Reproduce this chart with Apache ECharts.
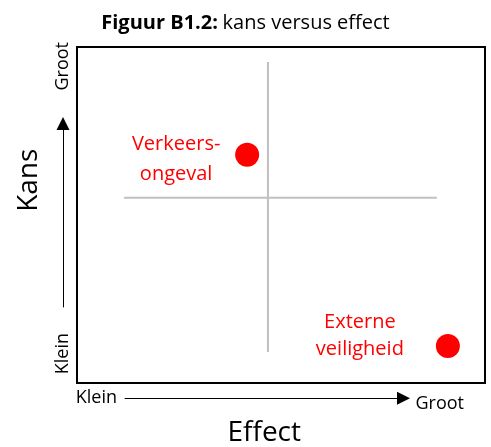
<!DOCTYPE html>
<html>
<head>
<meta charset="utf-8">
<script src="https://cdn.jsdelivr.net/npm/echarts@6/dist/echarts.min.js"></script>
<style>
html,body{margin:0;padding:0;background:#fff}
#main{width:491px;height:447px}
</style>
</head>
<body>
<div id="main"></div>
<script>
// gegevens
var risks = ['Verkeers-\nongeval', 'Externe\nveiligheid'];
var effect = [4.17, 9.09];
var kans = [6.79, 1.10];
var vLine = [[4.68, 0.92], [4.68, 9.55]];
var hLine = [[1.15, 5.51], [8.82, 5.51]];
var scaleWords = ['Klein', 'Groot'];

// stijl per label (geen data)
var labelStyle = [
  {offset: [-71, 4.5], lineHeight: 30},
  {offset: [-88, -10.5], lineHeight: 27}
];

var font = 'Open Sans';
var arrowPath = 'path://M5,0 L10,10 L0,10 Z';

var chart = echarts.init(document.getElementById('main'));

var points = risks.map(function (n, i) {
  return {
    name: n,
    value: [effect[i], kans[i]],
    label: {offset: labelStyle[i].offset, lineHeight: labelStyle[i].lineHeight}
  };
});

var hidden = {show: false};

var option = {
  animation: false,
  textStyle: {fontFamily: font},
  title: {
    text: '{b|Figuur B1.2:} {n|kans versus effect}',
    left: 'center',
    top: 8,
    textStyle: {
      fontWeight: 'normal',
      rich: {
        b: {fontFamily: font, fontWeight: 'bold', fontSize: 20, color: '#000'},
        n: {fontFamily: font, fontWeight: 'normal', fontSize: 20, color: '#000'}
      }
    }
  },
  grid: [
    {left: 77, top: 47, width: 408, height: 336, show: true, borderColor: '#000', borderWidth: 2, backgroundColor: 'transparent'},
    {left: 125, top: 398, width: 278.5, height: 1},
    {left: 63, top: 123.5, width: 10, height: 183.5}
  ],
  xAxis: [
    {gridIndex: 0, type: 'value', min: 0, max: 10, show: false},
    {gridIndex: 1, type: 'value', min: 0, max: 1, position: 'bottom',
      axisLine: {show: true, onZero: false, symbol: ['none', arrowPath], symbolSize: [15, 13], lineStyle: {color: '#000', width: 1}},
      axisTick: hidden, axisLabel: hidden, splitLine: hidden,
      name: scaleWords[1], nameLocation: 'end', nameGap: 12,
      nameTextStyle: {fontSize: 18, color: '#000', verticalAlign: 'top', lineHeight: 12}},
    {gridIndex: 1, type: 'value', min: 0, max: 1, position: 'bottom',
      axisLine: hidden, axisTick: hidden, axisLabel: hidden, splitLine: hidden,
      name: scaleWords[0], nameLocation: 'start', nameGap: 8,
      nameTextStyle: {fontSize: 18, color: '#000'}},
    {gridIndex: 1, type: 'value', min: 0, max: 1, position: 'bottom',
      axisLine: hidden, axisTick: hidden, axisLabel: hidden, splitLine: hidden,
      name: 'Effect', nameLocation: 'middle', nameGap: 21,
      nameTextStyle: {fontSize: 28, color: '#000'}},
    {gridIndex: 2, type: 'value', min: 0, max: 1, show: false}
  ],
  yAxis: [
    {gridIndex: 0, type: 'value', min: 0, max: 10, show: false},
    {gridIndex: 1, type: 'value', min: 0, max: 1, show: false},
    {gridIndex: 2, type: 'value', min: 0, max: 1, position: 'left',
      axisLine: {show: true, onZero: false, symbol: ['none', arrowPath], symbolSize: [16, 13], lineStyle: {color: '#000', width: 1}},
      axisTick: hidden, axisLabel: hidden, splitLine: hidden,
      name: scaleWords[1], nameLocation: 'end', nameGap: 33, nameRotate: 90,
      nameTextStyle: {fontSize: 18, color: '#000'}},
    {gridIndex: 2, type: 'value', min: 0, max: 1, position: 'left',
      axisLine: hidden, axisTick: hidden, axisLabel: hidden, splitLine: hidden,
      name: scaleWords[0], nameLocation: 'start', nameGap: 26, nameRotate: 90,
      nameTextStyle: {fontSize: 18, color: '#000'}},
    {gridIndex: 2, type: 'value', min: 0, max: 1, position: 'left',
      axisLine: hidden, axisTick: hidden, axisLabel: hidden, splitLine: hidden,
      name: 'Kans', nameLocation: 'middle', nameGap: 20, nameRotate: 90,
      nameTextStyle: {fontSize: 28, color: '#000', padding: [0, 0, 0, 70]}}
  ],
  series: [
    {type: 'line', xAxisIndex: 0, yAxisIndex: 0, data: vLine, showSymbol: false, symbol: 'none', silent: true,
      lineStyle: {color: '#c0c0c0', width: 2}},
    {type: 'line', xAxisIndex: 0, yAxisIndex: 0, data: hLine, showSymbol: false, symbol: 'none', silent: true,
      lineStyle: {color: '#c0c0c0', width: 2}},
    {type: 'scatter', xAxisIndex: 0, yAxisIndex: 0, data: points, symbolSize: 24,
      itemStyle: {color: '#ff0000', opacity: 1},
      label: {show: true, position: 'inside', align: 'center', verticalAlign: 'middle',
        formatter: '{b}', color: '#ff0000', fontSize: 20, fontFamily: font}}
  ]
};

chart.setOption(option);
</script>
</body>
</html>
